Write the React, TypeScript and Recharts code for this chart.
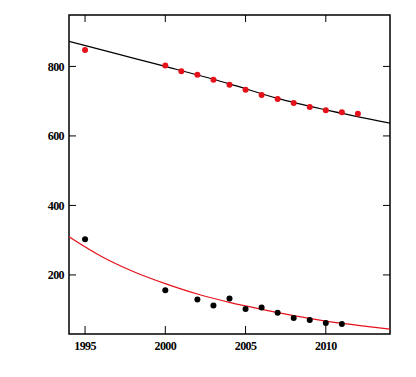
import React from "react";
import { ComposedChart, XAxis, YAxis, Line, Scatter, ReferenceArea } from "recharts";

const xTicks = [1995, 2000, 2005, 2010];
const yTicks = [200, 400, 600, 800];
const xDomain = [1994, 2014];
const yDomain = [30, 948];

const upperYears = [1995, 2000, 2001, 2002, 2003, 2004, 2005, 2006, 2007, 2008, 2009, 2010, 2011, 2012];
const upperValues = [847, 803, 786, 776, 762, 747, 733, 718, 706, 695, 683, 674, 668, 664];

const lowerYears = [1995, 2000, 2002, 2003, 2004, 2005, 2006, 2007, 2008, 2009, 2010, 2011];
const lowerValues = [303, 156, 129, 112, 132, 102, 106, 91, 76, 70, 62, 59];

const upperFitYears = [1994, 1997, 2000, 2004, 2007, 2010, 2014];
const upperFitValues = [872, 836, 800, 750, 708, 675, 637];

const lowerFitYears = [1994, 1996, 1998, 2000, 2002, 2004, 2006, 2008, 2010, 2012, 2014];
const lowerFitValues = [310, 254, 210, 175, 145, 121, 101, 83, 67, 55, 44];

const zip = (xs: number[], ys: number[]) => xs.map((x, i) => ({ x, y: ys[i] }));

const upperPts = zip(upperYears, upperValues);
const lowerPts = zip(lowerYears, lowerValues);
const upperFit = zip(upperFitYears, upperFitValues);
const lowerFit = zip(lowerFitYears, lowerFitValues);

const RED = "#e5121c";
const CHART_W = 416;
const CHART_H = 377;
const MARGIN = { top: 15, right: 26, left: 0, bottom: 0 };
const Y_AXIS_W = 69;
const X_AXIS_H = 43;
const PLOT_W = CHART_W - MARGIN.right - MARGIN.left - Y_AXIS_W;
const PLOT_H = CHART_H - MARGIN.top - MARGIN.bottom - X_AXIS_H;

const fontProps = {
  fill: "#000",
  fontSize: 12,
  fontWeight: "bold" as const,
  fontFamily: "Liberation Serif",
  letterSpacing: -0.6,
};

const dot = (color: string) => (props: any) =>
  <circle cx={props.cx} cy={props.cy} r={3} fill={color} />;

const XTick = (props: any) => {
  const { x, y, payload } = props;
  return (
    <g>
      <line x1={x} y1={y} x2={x} y2={y - 8} stroke="#000" strokeWidth={1} />
      <line x1={x} y1={y - PLOT_H} x2={x} y2={y - PLOT_H + 7} stroke="#000" strokeWidth={1} />
      <text x={x} y={y + 16} textAnchor="middle" {...fontProps}>{payload.value}</text>
    </g>
  );
};

const YTick = (props: any) => {
  const { x, y, payload } = props;
  return (
    <g>
      <line x1={x} y1={y} x2={x + 7} y2={y} stroke="#000" strokeWidth={1} />
      <line x1={x + PLOT_W - 7} y1={y} x2={x + PLOT_W} y2={y} stroke="#000" strokeWidth={1} />
      <text x={x - 5} y={y} dy="0.36em" textAnchor="end" {...fontProps}>{payload.value}</text>
    </g>
  );
};

export default function App() {
  return (
    <div style={{ position: "absolute", left: 0, top: 0, background: "#fff" }}>
      <ComposedChart width={CHART_W} height={CHART_H} margin={MARGIN}>
        <XAxis
          type="number"
          dataKey="x"
          domain={xDomain}
          allowDataOverflow
          ticks={xTicks}
          interval={0}
          height={X_AXIS_H}
          tickSize={0}
          tickMargin={0}
          axisLine={false}
          tickLine={false}
          tick={<XTick />}
        />
        <YAxis
          type="number"
          domain={yDomain}
          allowDataOverflow
          ticks={yTicks}
          interval={0}
          width={Y_AXIS_W}
          tickSize={0}
          tickMargin={0}
          axisLine={false}
          tickLine={false}
          tick={<YTick />}
        />
        <ReferenceArea
          x1={xDomain[0]}
          x2={xDomain[1]}
          y1={yDomain[0]}
          y2={yDomain[1]}
          fill="none"
          fillOpacity={0}
          stroke="#000"
          strokeWidth={1.5}
          ifOverflow="visible"
        />
        <Line
          data={upperFit}
          dataKey="y"
          type="monotone"
          stroke="#000"
          strokeWidth={1.2}
          dot={false}
          activeDot={false}
          isAnimationActive={false}
        />
        <Line
          data={lowerFit}
          dataKey="y"
          type="monotone"
          stroke={RED}
          strokeWidth={1.2}
          dot={false}
          activeDot={false}
          isAnimationActive={false}
        />
        <Scatter data={upperPts} dataKey="y" shape={dot(RED)} isAnimationActive={false} />
        <Scatter data={lowerPts} dataKey="y" shape={dot("#000")} isAnimationActive={false} />
      </ComposedChart>
    </div>
  );
}
